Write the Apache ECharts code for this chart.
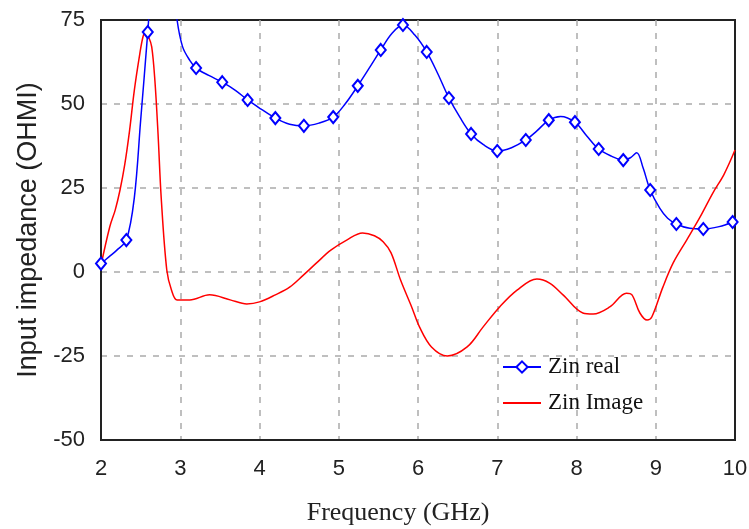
<!DOCTYPE html>
<html>
<head>
<meta charset="utf-8">
<script src="https://cdn.jsdelivr.net/npm/echarts@6/dist/echarts.min.js"></script>
<style>
  html, body { margin: 0; padding: 0; background: #fff; }
  #main { width: 749px; height: 529px; }
</style>
</head>
<body>
<div id="main"></div>
<script>
// Zin real: frequency, ohm, marker flag
var realFreq = [2.0, 2.1, 2.2, 2.32, 2.42, 2.5, 2.59, 2.68, 2.78, 2.88, 2.96, 3.03, 3.12, 3.2, 3.36, 3.53, 3.7, 3.85, 4.02, 4.2, 4.38, 4.56, 4.75, 4.93, 5.08, 5.24, 5.38, 5.53, 5.67, 5.81, 5.96, 6.11, 6.25, 6.39, 6.53, 6.67, 6.83, 7.0, 7.18, 7.36, 7.5, 7.65, 7.8, 7.98, 8.13, 8.28, 8.44, 8.59, 8.68, 8.76, 8.84, 8.93, 9.05, 9.15, 9.26, 9.43, 9.6, 9.8, 9.97];
var realOhm = [2.5, 4.5, 6.5, 9.5, 22, 45, 71.4, 100, 110, 92, 75, 67, 63, 60.7, 58.5, 56.5, 54, 51.2, 48.5, 45.8, 44, 43.5, 44.3, 46.1, 50, 55.4, 60.5, 66.1, 71, 73.5, 70.5, 65.5, 59, 51.8, 46, 41.1, 37.8, 36.0, 37, 39.3, 42, 45.2, 46.3, 44.6, 40.5, 36.6, 34.5, 33.3, 34, 35.5, 31, 24.4, 19, 16, 14.3, 13, 12.8, 13.5, 14.9];
var realMarker = [1, 0, 0, 1, 0, 0, 1, 0, 0, 0, 0, 0, 0, 1, 0, 1, 0, 1, 0, 1, 0, 1, 0, 1, 0, 1, 0, 1, 0, 1, 0, 1, 0, 1, 0, 1, 0, 1, 0, 1, 0, 1, 0, 1, 0, 1, 0, 1, 0, 0, 0, 1, 0, 0, 1, 0, 1, 0, 1];

// Zin Image
var imagFreq = [2.0, 2.11, 2.18, 2.24, 2.3, 2.36, 2.42, 2.49, 2.53, 2.56, 2.6, 2.64, 2.68, 2.72, 2.76, 2.83, 2.89, 2.96, 3.12, 3.37, 3.63, 3.84, 4.0, 4.2, 4.38, 4.55, 4.72, 4.9, 5.1, 5.3, 5.45, 5.56, 5.66, 5.78, 5.92, 6.02, 6.17, 6.37, 6.62, 6.82, 7.03, 7.25, 7.5, 7.66, 7.83, 8.08, 8.21, 8.42, 8.63, 8.7, 8.8, 8.89, 8.95, 9.09, 9.22, 9.39, 9.56, 9.72, 9.86, 10.0];
var imagOhm = [2, 13.4, 18.5, 24.4, 32, 42, 54, 65, 70, 71.5, 70, 67, 57, 41, 22, 0.6, -5.4, -8.3, -8.3, -6.8, -8.3, -9.5, -8.9, -6.8, -4.5, -1, 2.7, 6.5, 9.5, 11.6, 10.8, 9, 5.7, -2.4, -10.4, -16.4, -22.3, -25, -22.3, -16.4, -10.4, -5.4, -2.1, -3.3, -6.8, -12.2, -12.5, -10.4, -6.3, -6.8, -12.2, -14.3, -13.4, -4.5, 2.7, 9.5, 16.4, 23.5, 29, 36.3];

var yTicks = [-50, -25, 0, 25, 50, 75];

var realData = realFreq.map(function (f, i) {
  var item = { value: [f, realOhm[i]] };
  if (!realMarker[i]) item.symbol = 'none';
  return item;
});
var imagData = imagFreq.map(function (f, i) { return [f, imagOhm[i]]; });

var gridDash = { show: true, showMinLine: false, showMaxLine: false,
  lineStyle: { color: '#aaa', type: [6, 7], width: 1.5 } };

var chart = echarts.init(document.getElementById('main'));
chart.setOption({
  animation: false,
  grid: {
    left: 101, right: 14, top: 20, bottom: 89,
    outerBoundsMode: 'none',
    show: true, borderColor: '#222', borderWidth: 2
  },
  legend: {
    orient: 'vertical',
    left: 497, top: 350,
    itemWidth: 38, itemHeight: 14, itemGap: 12,
    textStyle: { fontFamily: 'Liberation Serif', fontSize: 23, lineHeight: 24, color: '#111', padding: [0, 0, 0, 2] },
    data: ['Zin real', { name: 'Zin Image', itemStyle: { opacity: 0 } }]
  },
  xAxis: {
    type: 'value',
    min: 2, max: 10, interval: 1,
    name: 'Frequency (GHz)',
    nameLocation: 'middle', nameGap: 60,
    nameTextStyle: { fontFamily: 'Liberation Serif', fontSize: 26, color: '#222', padding: [0, 40, 0, 0] },
    axisLine: { show: true, onZero: false, lineStyle: { color: '#222', width: 2 } },
    axisTick: { show: false },
    axisLabel: { margin: 18, fontFamily: 'Liberation Sans', fontSize: 22, color: '#222' },
    splitLine: gridDash
  },
  yAxis: {
    type: 'value',
    min: yTicks[0], max: yTicks[yTicks.length - 1], interval: 25,
    name: 'Input impedance (OHMI)',
    nameLocation: 'middle', nameGap: 57,
    nameTextStyle: { fontFamily: 'Liberation Sans', fontSize: 27, color: '#222' },
    axisLine: { show: true, onZero: false, lineStyle: { color: '#222', width: 2 } },
    axisTick: { show: false },
    axisLabel: { margin: 16, fontFamily: 'Liberation Sans', fontSize: 22, color: '#222' },
    splitLine: gridDash
  },
  series: [
    {
      name: 'Zin real',
      type: 'line',
      data: realData,
      smooth: 0.35,
      clip: true,
      symbol: 'emptyDiamond',
      symbolSize: [10, 12],
      color: '#0000ff',
      lineStyle: { color: '#0000ff', width: 1.5 },
      itemStyle: { color: '#0000ff', borderColor: '#0000ff', borderWidth: 1.5 }
    },
    {
      name: 'Zin Image',
      type: 'line',
      data: imagData,
      smooth: 0.35,
      clip: true,
      symbol: 'none',
      color: '#ff0000',
      lineStyle: { color: '#ff0000', width: 1.5 }
    }
  ]
});
</script>
</body>
</html>
